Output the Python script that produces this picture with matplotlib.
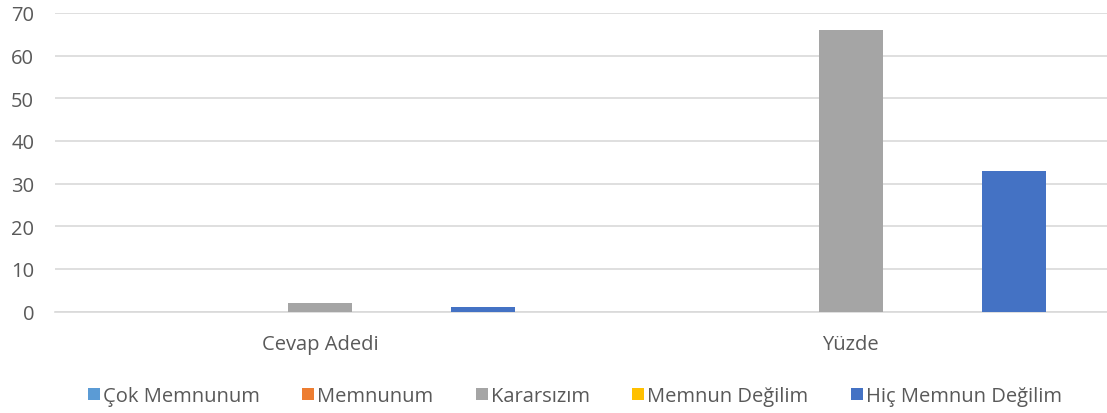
import numpy as np
import matplotlib
matplotlib.use("Agg")
import matplotlib.pyplot as plt

categories = ["Cevap Adedi", "Yüzde"]
series_names = ["Çok Memnunum", "Memnunum", "Kararsızım", "Memnun Değilim", "Hiç Memnun Değilim"]
cok_memnunum = [0, 0]
memnunum = [0, 0]
kararsizim = [2, 66]
memnun_degilim = [0, 0]
hic_memnun_degilim = [1, 33]
colors = ["#5B9BD5", "#ED7D31", "#A5A5A5", "#FFC000", "#4472C4"]

values = [cok_memnunum, memnunum, kararsizim, memnun_degilim, hic_memnun_degilim]

plt.rcParams['font.family'] = ['Open Sans', 'DejaVu Sans']
text_color = "#595959"

fig = plt.figure(figsize=(11.07, 4.14), dpi=100)
# plot area runs past the right edge, as in the reference
ax = fig.add_axes([55 / 1107, 1 - 312.5 / 414, 1061 / 1107, 298.5 / 414])

x = np.arange(len(categories))
step = 0.1536
width = 0.1206
for i, (name, vals, c) in enumerate(zip(series_names, values, colors)):
    ax.bar(x + (i - 2) * step, vals, width, color=c, label=name, zorder=3)

ax.set_xlim(-0.5, 1.5)
ax.set_ylim(0, 70)
ax.set_yticks(range(0, 71, 10))
ax.set_xticks(x)
ax.set_xticklabels(categories)
ax.grid(axis="y", color="#D9D9D9", linewidth=1.2, zorder=0)
for s in ["top", "right", "left"]:
    ax.spines[s].set_visible(False)
ax.spines["bottom"].set_color("#D9D9D9")
ax.spines["bottom"].set_linewidth(1.2)
ax.tick_params(axis="both", length=0, labelsize=14.5, colors=text_color)
ax.tick_params(axis="y", pad=15)
ax.tick_params(axis="x", pad=16)

fig.legend(loc="center", bbox_to_anchor=(575 / 1107, 1 - 397 / 414), ncol=5,
           frameon=False, fontsize=14.5, handlelength=0.6, handleheight=0.6,
           handletextpad=0.15, columnspacing=2.1, labelcolor=text_color)

fig.savefig("out.png", dpi=100)
